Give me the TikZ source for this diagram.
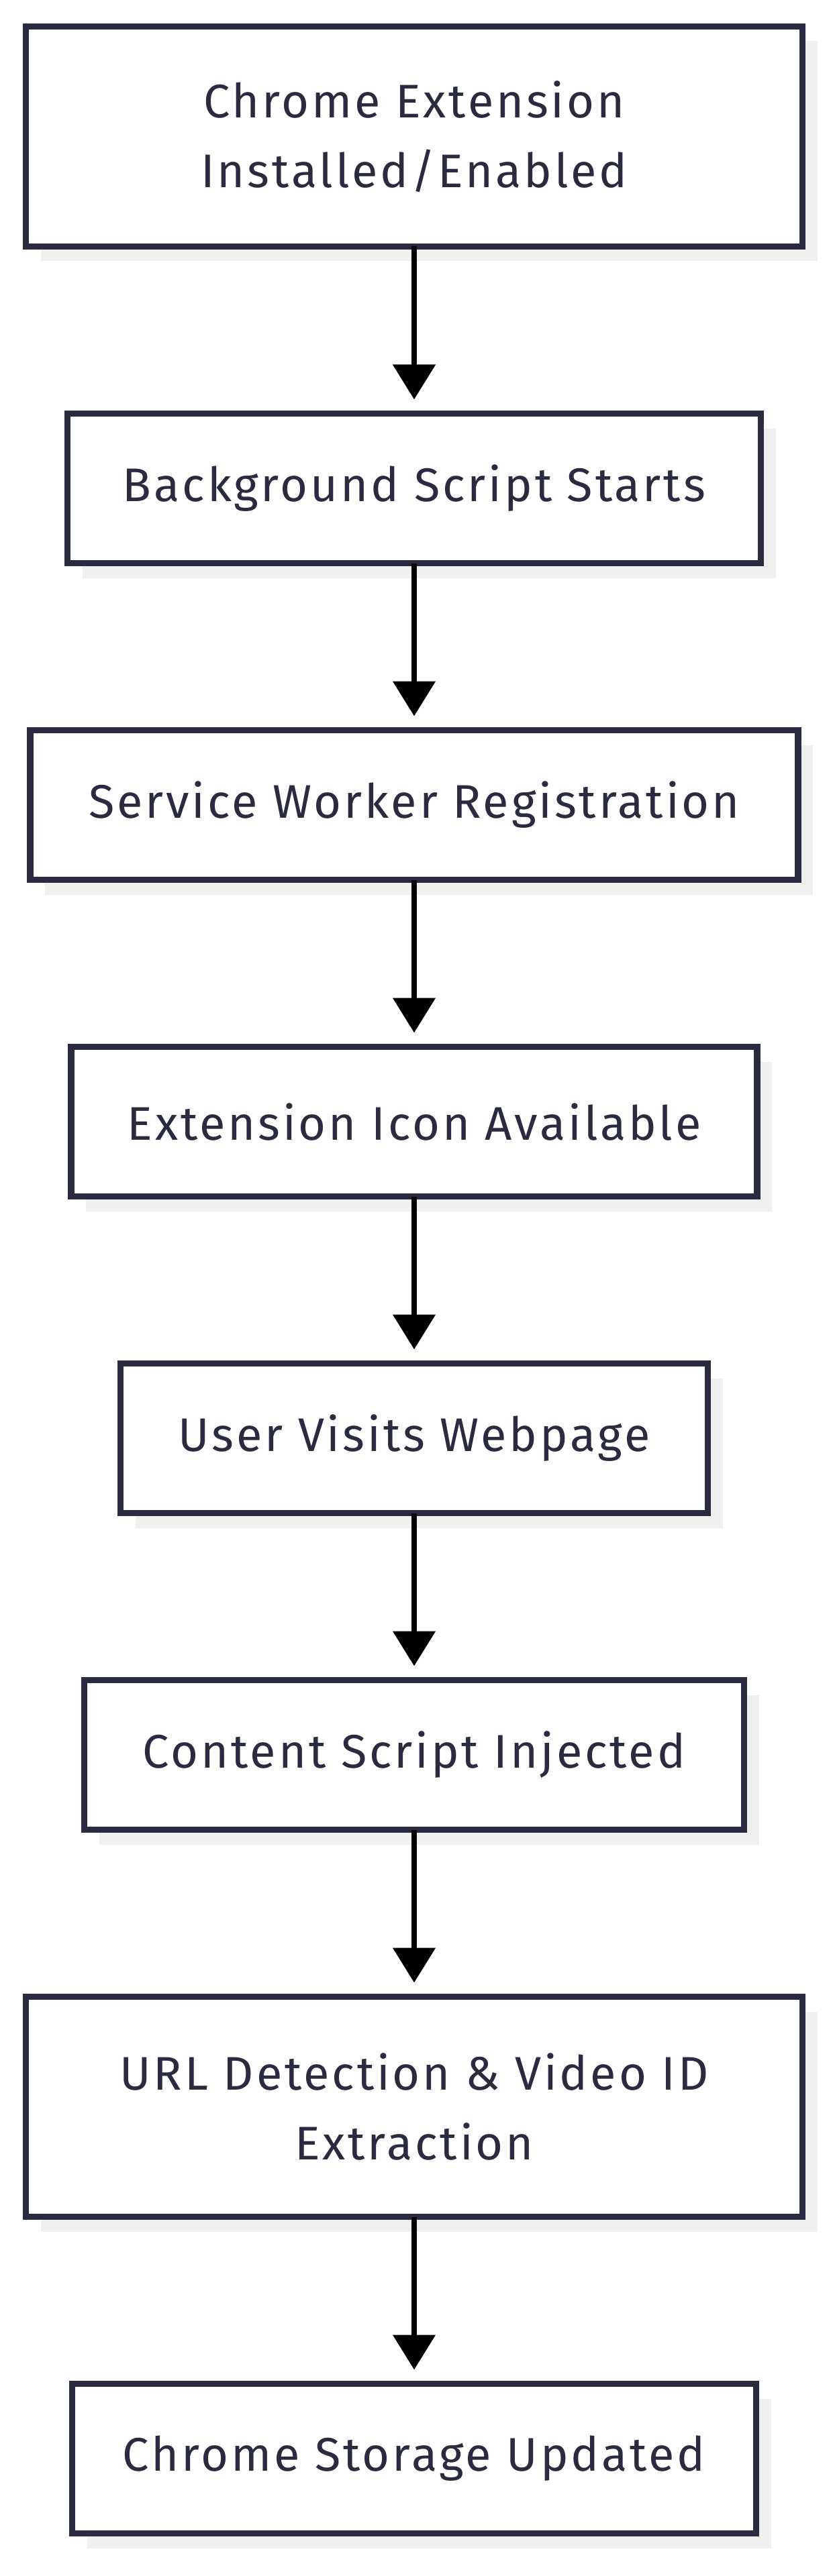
\documentclass[tikz,border=0pt]{standalone}
\usepackage{fontspec}
\setmainfont{Fira Sans}[LetterSpace=5.5]
\usetikzlibrary{arrows.meta,positioning,shadows}
\definecolor{boxline}{RGB}{42,42,64}
\definecolor{shadowgray}{RGB}{239,239,239}

\begin{document}
\begin{tikzpicture}[
  node distance=2.49cm,
  stepbox/.style={draw=boxline, line width=2.6pt, fill=white, text=boxline,
    outer sep=0pt, inner sep=0pt, minimum height=2.23cm, align=center,
    font=\fontsize{20}{29.5}\selectfont,
    drop shadow={shadow xshift=0.22cm, shadow yshift=-0.22cm, fill=shadowgray, opacity=1}},
  flow/.style={-{Triangle[length=0.52cm,width=0.62cm]}, line width=2.3pt, shorten >=0.21cm}
]
\useasboundingbox (0,0) rectangle (12.4,-38.4);

% steps, top to bottom
\node[stepbox, anchor=north, minimum width=11.57cm, minimum height=3.28cm] (installed) at (6.17,-0.395) {Chrome Extension\\Installed/Enabled};
\node[stepbox, minimum width=10.33cm, below=of installed] (background) {Background Script Starts};
\node[stepbox, minimum width=11.44cm, below=of background] (worker) {Service Worker Registration};
\node[stepbox, minimum width=10.22cm, below=of worker] (icon) {Extension Icon Available};
\node[stepbox, minimum width=8.75cm, below=of icon] (visit) {User Visits Webpage};
\node[stepbox, minimum width=9.83cm, below=of visit] (content) {Content Script Injected};
\node[stepbox, minimum width=11.57cm, minimum height=3.28cm, below=of content] (detect) {URL Detection \& Video ID\\Extraction};
\node[stepbox, minimum width=10.19cm, below=of detect] (storage) {Chrome Storage Updated};

% arrows
\draw[flow] (installed) -- (background);
\draw[flow] (background) -- (worker);
\draw[flow] (worker) -- (icon);
\draw[flow] (icon) -- (visit);
\draw[flow] (visit) -- (content);
\draw[flow] (content) -- (detect);
\draw[flow] (detect) -- (storage);
\end{tikzpicture}
\end{document}
